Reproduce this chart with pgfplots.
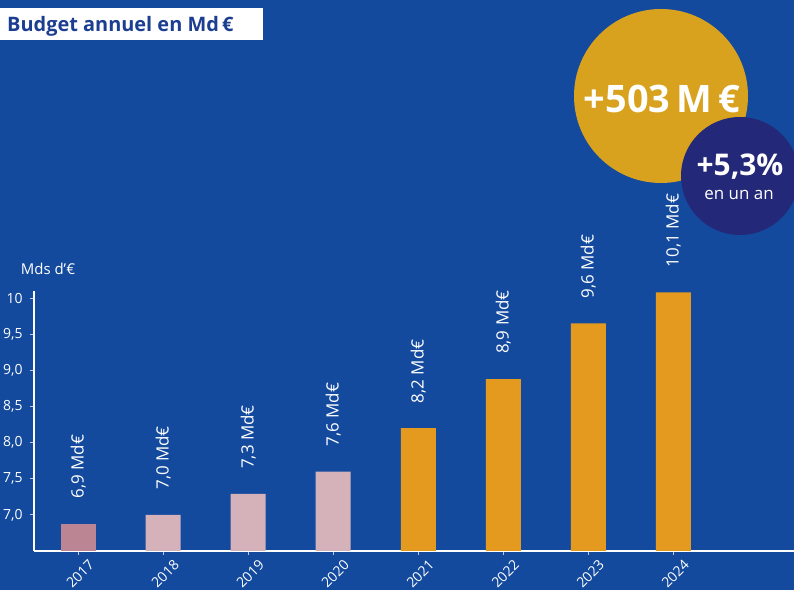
\documentclass[border=0pt]{standalone}
\usepackage{pgfplots}
\pgfplotsset{compat=1.18}
\usepackage{fontspec}
\setmainfont{Open Sans}
\definecolor{bg}{RGB}{20,74,158}
\definecolor{cA}{RGB}{188,133,148}
\definecolor{cB}{RGB}{213,177,186}
\definecolor{cC}{RGB}{227,154,31}
\definecolor{gold}{RGB}{216,162,30}
\definecolor{navy}{RGB}{35,40,120}
\definecolor{titlec}{RGB}{28,62,145}
\definecolor{tickc}{RGB}{190,200,220}
\begin{document}
\begin{tikzpicture}[x=1bp,y=1bp]
\path[use as bounding box] (0,0) rectangle (794,590);
\fill[bg] (0,0) rectangle (794,590);
\begin{axis}[
  at={(34bp,39bp)}, anchor=south west,
  scale only axis, width=760bp, height=260bp,
  xmin=-0.52, xmax=8.42, ymin=6.5, ymax=10.1,
  axis lines=left,
  axis line style={-, white, line width=1.2bp},
  xtick={0,1,2,3,4,5,6,7},
  xticklabels={2017,2018,2019,2020,2021,2022,2023,2024},
  ytick={7,7.5,8,8.5,9,9.5,10},
  yticklabels={{7,0},{7,5},{8,0},{8,5},{9,0},{9,5},{10}},
  tick align=outside, major tick length=4bp,
  tick style={color=tickc, line width=0.9bp},
  /pgf/number format/assume math mode=true,
  xticklabel style={anchor=center, yshift=-19bp, xshift=2bp, rotate=45, white, font=\fontsize{14}{14}\selectfont},
  yticklabel style={white, xshift=-4bp, font=\fontsize{14}{14}\selectfont},
  every node near coord/.append style={rotate=90, anchor=west, inner xsep=0pt, xshift=25bp, white, font=\fontsize{17}{17}\selectfont},
]
\addplot[ybar, bar width=35bp, fill=cA, draw=none, nodes near coords, point meta=explicit symbolic]
  coordinates {(0,6.88) [6,9 Md€]};
\addplot[ybar, bar width=35bp, fill=cB, draw=none, nodes near coords, point meta=explicit symbolic]
  coordinates {(1,7.0) [7,0 Md€] (2,7.29) [7,3 Md€] (3,7.6) [7,6 Md€]};
\addplot[ybar, bar width=35bp, fill=cC, draw=none, nodes near coords, point meta=explicit symbolic]
  coordinates {(4,8.2) [8,2 Md€] (5,8.88) [8,9 Md€] (6,9.65) [9,6 Md€] (7,10.08) [10,1 Md€]};
\end{axis}
% title
\fill[white] (0,550) rectangle (263,582);
\node[anchor=base west, inner sep=0pt, text=titlec, font=\fontsize{20}{20}\selectfont\bfseries] at (7,558) {Budget annuel en Md\,€};
\node[white, font=\fontsize{15}{15}\selectfont] at (48,321) {Mds d’€};
% circles
\fill[gold] (661,494) circle (87);
\fill[navy] (740,414) circle (59);
\node[white, font=\fontsize{38}{38}\selectfont\bfseries] at (662,491) {+503\,M\,€};
\node[white, font=\fontsize{30}{30}\selectfont\bfseries] at (740,423) {+5,3\%};
\node[white, font=\fontsize{17}{17}\selectfont] at (739,395) {en un an};
\end{tikzpicture}
\end{document}
